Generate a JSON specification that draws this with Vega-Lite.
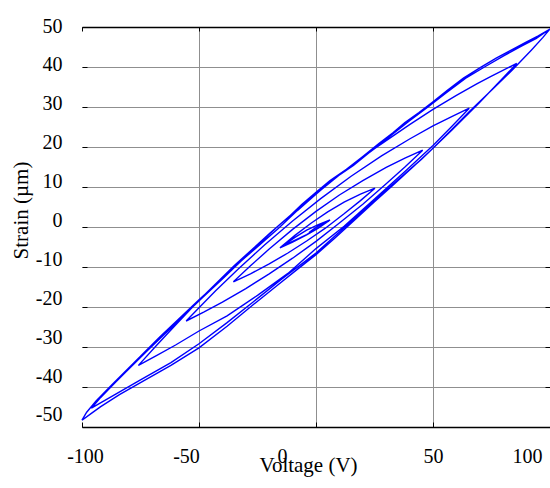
{
  "$schema": "https://vega.github.io/schema/vega-lite/v6.json",
  "width": 468,
  "height": 400,
  "autosize": "none",
  "padding": {"left": 82, "top": 27, "right": 0, "bottom": 61},
  "background": "white",
  "config": {
    "view": {"stroke": null},
    "font": "Liberation Serif",
    "axis": {"labelFont": "Liberation Serif", "titleFont": "Liberation Serif"}
  },
  "data": {"values": [
    {"i":1,"V":100,"S":49.5},{"i":2,"V":95,"S":47.8},{"i":3,"V":90,"S":46.3},{"i":4,"V":83,"S":44.1},{"i":5,"V":77,"S":42.2},{"i":6,"V":70,"S":39.8},{"i":7,"V":63,"S":37.2},{"i":8,"V":56,"S":34.1},{"i":9,"V":50,"S":31.3},{"i":10,"V":44,"S":28.6},{"i":11,"V":38,"S":26.1},{"i":12,"V":33,"S":23.6},{"i":13,"V":27,"S":20.9},{"i":14,"V":20,"S":17.6},{"i":15,"V":13,"S":14.4},{"i":16,"V":6,"S":11.6},{"i":17,"V":0,"S":8.7},{"i":18,"V":-6,"S":5.7},{"i":19,"V":-11,"S":2.9},{"i":20,"V":-17,"S":-0.2},{"i":21,"V":-22.5,"S":-3.2},{"i":22,"V":-30,"S":-7.3},{"i":23,"V":-37,"S":-11.1},{"i":24,"V":-44,"S":-15.0},{"i":25,"V":-50,"S":-18.2},{"i":26,"V":-58,"S":-22.6},{"i":27,"V":-67,"S":-27.6},{"i":28,"V":-75,"S":-32.3},{"i":29,"V":-81,"S":-35.8},{"i":30,"V":-87,"S":-39.3},{"i":31,"V":-94,"S":-43.5},{"i":32,"V":-98,"S":-46.3},{"i":33,"V":-100,"S":-48.3},
    {"i":34,"V":-96,"S":-46.6},{"i":35,"V":-92,"S":-44.9},{"i":36,"V":-84,"S":-41.9},{"i":37,"V":-75,"S":-38.9},{"i":38,"V":-62,"S":-34.6},{"i":39,"V":-50,"S":-30.2},{"i":40,"V":-38,"S":-24.8},{"i":41,"V":-27,"S":-19.5},{"i":42,"V":-17,"S":-14.8},{"i":43,"V":-8,"S":-10.6},{"i":44,"V":0,"S":-6.9},{"i":45,"V":8,"S":-2.8},{"i":46,"V":17,"S":2.0},{"i":47,"V":25,"S":6.3},{"i":48,"V":33,"S":10.5},{"i":49,"V":42,"S":15.3},{"i":50,"V":50,"S":19.7},{"i":51,"V":58,"S":24.4},{"i":52,"V":66,"S":29.1},{"i":53,"V":75,"S":34.2},{"i":54,"V":84,"S":39.3},{"i":55,"V":92,"S":44.2},{"i":56,"V":97,"S":47.4},{"i":57,"V":100,"S":49.5},
    {"i":58,"V":94,"S":47.1},{"i":59,"V":88,"S":45.3},{"i":60,"V":80,"S":42.7},{"i":61,"V":72,"S":40.0},{"i":62,"V":64,"S":37.2},{"i":63,"V":56,"S":33.7},{"i":64,"V":48,"S":30.1},{"i":65,"V":40,"S":26.6},{"i":66,"V":32,"S":22.9},{"i":67,"V":24,"S":19.2},{"i":68,"V":16,"S":15.4},{"i":69,"V":8,"S":12.2},{"i":70,"V":0,"S":8.2},{"i":71,"V":-8,"S":4.1},{"i":72,"V":-16,"S":-0.3},{"i":73,"V":-24,"S":-4.4},{"i":74,"V":-32,"S":-8.5},{"i":75,"V":-40,"S":-13.0},{"i":76,"V":-48,"S":-17.4},{"i":77,"V":-56,"S":-21.8},{"i":78,"V":-64,"S":-26.4},{"i":79,"V":-72,"S":-30.9},{"i":80,"V":-80,"S":-35.5},{"i":81,"V":-86,"S":-39.0},{"i":82,"V":-92,"S":-42.6},{"i":83,"V":-96,"S":-45.3},
    {"i":84,"V":-88,"S":-42.6},{"i":85,"V":-75,"S":-38.2},{"i":86,"V":-62,"S":-33.9},{"i":87,"V":-50,"S":-29.2},{"i":88,"V":-38,"S":-23.9},{"i":89,"V":-27,"S":-18.8},{"i":90,"V":-15,"S":-13.2},{"i":91,"V":0,"S":-6.5},{"i":92,"V":15,"S":1.4},{"i":93,"V":30,"S":9.2},{"i":94,"V":45,"S":16.9},{"i":95,"V":58,"S":24.2},{"i":96,"V":70,"S":31.2},{"i":97,"V":80,"S":37.3},{"i":98,"V":85.8,"S":40.9},
    {"i":99,"V":75,"S":37.7},{"i":100,"V":68.7,"S":35.8},{"i":101,"V":60,"S":32.9},{"i":102,"V":50,"S":29.4},{"i":103,"V":40,"S":25.6},{"i":104,"V":25,"S":19.6},{"i":105,"V":10,"S":13.0},{"i":106,"V":-5,"S":5.9},{"i":107,"V":-20,"S":-1.7},{"i":108,"V":-35,"S":-9.7},{"i":109,"V":-50,"S":-18.3},{"i":110,"V":-60,"S":-24.5},{"i":111,"V":-68,"S":-29.5},{"i":112,"V":-75.9,"S":-34.6},
    {"i":113,"V":-68,"S":-32.1},{"i":114,"V":-60,"S":-29.5},{"i":115,"V":-50,"S":-26.0},{"i":116,"V":-38,"S":-22.2},{"i":117,"V":-25,"S":-17.1},{"i":118,"V":-12,"S":-11.6},{"i":119,"V":0,"S":-5.4},{"i":120,"V":12,"S":0.2},{"i":121,"V":25,"S":7.0},{"i":122,"V":38,"S":13.9},{"i":123,"V":50,"S":20.4},{"i":124,"V":58,"S":25.1},{"i":125,"V":65.5,"S":29.7},
    {"i":126,"V":58,"S":27.6},{"i":127,"V":50,"S":25.3},{"i":128,"V":40,"S":22.0},{"i":129,"V":28,"S":17.8},{"i":130,"V":15,"S":12.7},{"i":131,"V":2,"S":7.1},{"i":132,"V":-10,"S":1.5},{"i":133,"V":-22,"S":-4.5},{"i":134,"V":-33,"S":-10.4},{"i":135,"V":-43,"S":-16.0},{"i":136,"V":-50,"S":-20.2},{"i":137,"V":-55.5,"S":-23.5},
    {"i":138,"V":-48,"S":-21.3},{"i":139,"V":-40,"S":-18.8},{"i":140,"V":-30,"S":-15.4},{"i":141,"V":-20,"S":-11.7},{"i":142,"V":-10,"S":-7.8},{"i":143,"V":0,"S":-3.6},{"i":144,"V":10,"S":1.0},{"i":145,"V":20,"S":5.7},{"i":146,"V":30,"S":10.8},{"i":147,"V":38,"S":15.0},{"i":148,"V":45.6,"S":19.2},
    {"i":149,"V":38,"S":17.2},{"i":150,"V":30,"S":14.9},{"i":151,"V":20,"S":11.6},{"i":152,"V":10,"S":8.0},{"i":153,"V":0,"S":3.9},{"i":154,"V":-10,"S":-0.6},{"i":155,"V":-20,"S":-5.5},{"i":156,"V":-28,"S":-9.7},{"i":157,"V":-35.3,"S":-13.7},
    {"i":158,"V":-28,"S":-11.7},{"i":159,"V":-20,"S":-9.2},{"i":160,"V":-12,"S":-6.5},{"i":161,"V":-4,"S":-3.5},{"i":162,"V":4,"S":-0.3},{"i":163,"V":12,"S":3.3},{"i":164,"V":19,"S":6.6},{"i":165,"V":25.2,"S":9.7},
    {"i":166,"V":19,"S":8.2},{"i":167,"V":12,"S":6.2},{"i":168,"V":5,"S":3.8},{"i":169,"V":-2,"S":1.0},{"i":170,"V":-9,"S":-2.1},{"i":171,"V":-15.4,"S":-5.2},
    {"i":172,"V":-10,"S":-3.8},{"i":173,"V":-4,"S":-2.0},{"i":174,"V":1,"S":-0.3},{"i":175,"V":6,"S":1.75},
    {"i":176,"V":1,"S":0.6},{"i":177,"V":-4,"S":-0.8},{"i":178,"V":-9,"S":-2.6},{"i":179,"V":-14.8,"S":-5.0},
    {"i":180,"V":-10,"S":-3.6},{"i":181,"V":-4,"S":-1.9},{"i":182,"V":1,"S":-0.2},{"i":183,"V":5.5,"S":1.5},
    {"i":184,"V":2,"S":0.6},{"i":185,"V":-1,"S":-0.5},{"i":186,"V":-3,"S":-1.4}
  ]},
  "layer": [
    {
      "mark": {"type": "line", "color": "#0000ff", "strokeWidth": 1.4, "clip": false},
      "encoding": {
        "x": {
          "field": "V", "type": "quantitative",
          "scale": {"domain": [-100, 100], "nice": false, "zero": false},
          "axis": {
            "orient": "bottom",
            "values": [-100, -50, 0, 50, 100],
            "labelExpr": "datum.value < 0 ? '-' + abs(datum.value) : '' + datum.value",
            "title": "Voltage (V)",
            "titleFont": "Liberation Serif", "titleFontSize": 21, "titleFontWeight": "normal", "titleColor": "black",
            "titleX": 226, "titleY": 44, "titleBaseline": "alphabetic", "titleAlign": "center",
            "labelFont": "Liberation Serif", "labelFontSize": 20, "labelColor": "black",
            "labelBaseline": "alphabetic", "labelPadding": 40, "labelFlush": false, "labelOverlap": false, "labelBound": false,
            "labelOffset": {"condition": [
              {"test": "datum.value == -100", "value": 3},
              {"test": "datum.value == -50", "value": -13},
              {"test": "datum.value == 0", "value": -34},
              {"test": "datum.value == 100", "value": -23}
            ], "value": 0},
            "domainColor": "black", "domainWidth": 1.5,
            "tickColor": "black", "tickSize": -5, "tickWidth": 1,
            "grid": true, "gridColor": "#8f8f8f", "gridWidth": 1,
            "gridOpacity": {"condition": {"test": "abs(datum.value) == 100", "value": 0}, "value": 1}
          }
        },
        "y": {
          "field": "S", "type": "quantitative",
          "scale": {"domain": [-50, 50], "nice": false, "zero": false},
          "axis": {
            "orient": "left",
            "values": [-50, -40, -30, -20, -10, 0, 10, 20, 30, 40, 50],
            "labelExpr": "datum.value < 0 ? '-' + abs(datum.value) : '' + datum.value",
            "title": "Strain (µm)",
            "titleFont": "Liberation Serif", "titleFontSize": 21, "titleFontWeight": "normal", "titleColor": "black",
            "titleX": -55, "titleY": 183, "titleAngle": -90, "titleBaseline": "alphabetic", "titleAlign": "center",
            "labelFont": "Liberation Serif", "labelFontSize": 20, "labelColor": "black",
            "labelBaseline": "middle", "labelAlign": "right", "labelPadding": 25, "labelFlush": false, "labelOverlap": false, "labelBound": false,
            "labelOffset": {"condition": [
              {"test": "datum.value == 50", "value": -1},
              {"test": "datum.value == 40", "value": -3},
              {"test": "datum.value == 30", "value": -4},
              {"test": "datum.value == 20", "value": -5},
              {"test": "datum.value == 10", "value": -6},
              {"test": "datum.value == 0", "value": -7},
              {"test": "datum.value == -10", "value": -8},
              {"test": "datum.value == -20", "value": -9},
              {"test": "datum.value == -30", "value": -10},
              {"test": "datum.value == -40", "value": -11},
              {"test": "datum.value == -50", "value": -13}
            ], "value": 0},
            "domain": false,
            "tickColor": "black", "tickSize": -5, "tickWidth": 1,
            "grid": true, "gridColor": "#8f8f8f", "gridWidth": 1
          }
        },
        "order": {"field": "i", "type": "quantitative"}
      }
    },
    {
      "mark": {"type": "point", "opacity": 0},
      "encoding": {
        "x": {
          "field": "V", "type": "quantitative",
          "axis": {"orient": "top", "values": [-100, -50, 0, 50, 100], "labels": false, "title": null, "grid": false,
                   "domainColor": "black", "domainWidth": 1.5, "tickColor": "black", "tickSize": -4, "tickWidth": 1}
        },
        "y": {
          "field": "S", "type": "quantitative",
          "axis": {"orient": "right", "values": [-50, -40, -30, -20, -10, 0, 10, 20, 30, 40, 50], "labels": false, "title": null, "grid": false,
                   "domain": false, "tickColor": "black", "tickSize": -5, "tickWidth": 1}
        }
      }
    }
  ],
  "resolve": {"axis": {"x": "independent", "y": "independent"}}
}
